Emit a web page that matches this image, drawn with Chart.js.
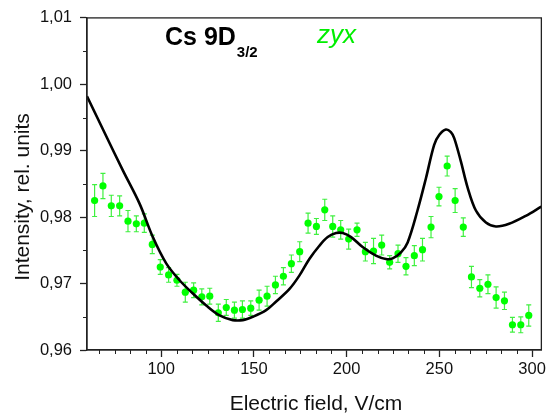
<!DOCTYPE html>
<html>
<head>
<meta charset="utf-8">
<script src="https://cdn.jsdelivr.net/npm/chart.js@4/dist/chart.umd.min.js"></script>
<style>
  html, body { margin: 0; padding: 0; background: #fff; }
</style>
</head>
<body>
<canvas id="chart" width="549" height="418"></canvas>
<script>
// measured points (Cs 9D3/2, zyx geometry)
const fieldPts = [64.1, 68.6, 73.1, 77.6, 82.1, 86.6, 90.9, 95.2, 99.5, 104.0,
  108.5, 113.0, 117.5, 121.9, 126.2, 130.8, 135.1, 139.5, 143.8, 148.3,
  152.8, 157.1, 161.6, 165.9, 170.2, 174.7, 179.2, 183.7, 188.2, 192.5,
  196.8, 201.1, 205.6, 210.1, 214.5, 218.9, 223.2, 227.7, 232.0, 236.5,
  240.9, 245.5, 249.8, 254.2, 258.5, 262.9, 267.3, 271.8, 276.2, 280.6,
  285.1, 289.4, 293.9, 298.2];
const intensity = [0.9825, 0.9847, 0.9817, 0.9817, 0.9794, 0.9790, 0.9791, 0.9759, 0.9725, 0.9713,
  0.9705, 0.9687, 0.9690, 0.9680, 0.9681, 0.9656, 0.9664, 0.9660, 0.9661, 0.9663,
  0.9675, 0.9681, 0.9698, 0.9711, 0.9730, 0.9748, 0.9791, 0.9786, 0.9811, 0.9786,
  0.9781, 0.9767, 0.9781, 0.9748, 0.9749, 0.9758, 0.9732, 0.9745, 0.9726, 0.9742,
  0.9751, 0.9785, 0.9831, 0.9877, 0.9825, 0.9785, 0.9710, 0.9693, 0.9699, 0.9679,
  0.9674, 0.9638, 0.9638, 0.9652];
const intensityErr = [0.0024, 0.0019, 0.0016, 0.0015, 0.0016, 0.0012, 0.0014, 0.0014, 0.0011, 0.0011,
  0.0009, 0.0015, 0.0011, 0.0012, 0.0012, 0.0013, 0.0012, 0.0012, 0.0013, 0.0011,
  0.0015, 0.0015, 0.0013, 0.0013, 0.0013, 0.0015, 0.0015, 0.0012, 0.0016, 0.0016,
  0.0014, 0.0015, 0.0010, 0.0014, 0.0019, 0.0015, 0.0010, 0.0013, 0.0013, 0.0015,
  0.0017, 0.0016, 0.0014, 0.0015, 0.0018, 0.0014, 0.0016, 0.0013, 0.0014, 0.0016,
  0.0013, 0.0011, 0.0012, 0.0016];

// calculated signal
const curveField = [60, 70, 79.4, 88.4, 95.5, 102.8, 109.9, 117.1, 124.3, 131.5,
  138.6, 144.0, 149.4, 156.6, 162.0, 169.2, 174.5, 179.9, 185.3, 189.8,
  194.3, 197.9, 202.4, 208.6, 215.8, 221.2, 224.8, 229.3, 232.9, 238.2,
  242.8, 247.2, 250.0, 253.5, 256.2, 258.0, 261.6, 265.2, 269.7, 275.1,
  280.5, 287.6, 296.6, 305];
const curveIntensity = [0.9982, 0.9924, 0.9870, 0.9820, 0.9770, 0.9730, 0.9705, 0.9685, 0.9667, 0.9652,
  0.9645, 0.9645, 0.9650, 0.9660, 0.9673, 0.9692, 0.9712, 0.9737, 0.9757, 0.9770,
  0.9776, 0.9776, 0.9770, 0.9755, 0.9742, 0.9737, 0.9738, 0.9747, 0.9762, 0.9810,
  0.9859, 0.9909, 0.9924, 0.9932, 0.9928, 0.9919, 0.9884, 0.9845, 0.9810, 0.9792,
  0.9786, 0.9790, 0.9802, 0.9816];

const xTicks = [100, 150, 200, 250, 300];
const yTicks = [0.96, 0.97, 0.98, 0.99, 1.00, 1.01];

const FONT = "'Liberation Sans', Arial, sans-serif";
const AXIS_COLOR = '#222';

function pairs(xs, ys) {
  return xs.map((x, i) => ({ x: x, y: ys[i] }));
}

// error bars, minor ticks, frame and the text labels
const decor = {
  id: 'decor',
  beforeDatasetsDraw(chart) {
    const ctx = chart.ctx;
    const sx = chart.scales.x, sy = chart.scales.y;
    ctx.save();
    ctx.strokeStyle = '#40f040';
    ctx.lineWidth = 1.2;
    fieldPts.forEach((f, i) => {
      const px = sx.getPixelForValue(f);
      const top = sy.getPixelForValue(intensity[i] + intensityErr[i]);
      const bot = sy.getPixelForValue(intensity[i] - intensityErr[i]);
      ctx.beginPath();
      ctx.moveTo(px, top); ctx.lineTo(px, bot);
      ctx.moveTo(px - 2.5, top); ctx.lineTo(px + 2.5, top);
      ctx.moveTo(px - 2.5, bot); ctx.lineTo(px + 2.5, bot);
      ctx.stroke();
    });
    ctx.restore();
  },
  afterDraw(chart) {
    const ctx = chart.ctx;
    const a = chart.chartArea;
    const sx = chart.scales.x, sy = chart.scales.y;
    ctx.save();
    ctx.strokeStyle = AXIS_COLOR;
    ctx.lineWidth = 1.3;
    ctx.strokeRect(a.left, a.top, a.right - a.left, a.bottom - a.top);

    // minor ticks
    ctx.lineWidth = 1;
    ctx.beginPath();
    for (let k = -5; k < 30; k++) {
      const v = 100 + k * 50 / 6;
      if (v <= sx.min || v >= sx.max || k % 6 === 0) continue;
      const px = Math.round(sx.getPixelForValue(v)) + 0.5;
      ctx.moveTo(px, a.bottom); ctx.lineTo(px, a.bottom + 4);
    }
    for (let v = 0.965; v < 1.01; v += 0.01) {
      const py = Math.round(sy.getPixelForValue(v)) + 0.5;
      ctx.moveTo(a.left, py); ctx.lineTo(a.left - 4, py);
    }
    ctx.stroke();

    // axis titles
    ctx.fillStyle = '#111';
    ctx.font = '21px ' + FONT;
    ctx.textAlign = 'center';
    ctx.textBaseline = 'alphabetic';
    ctx.fillText('Electric field, V/cm', 316, 410);
    ctx.save();
    ctx.translate(29, 197);
    ctx.rotate(-Math.PI / 2);
    ctx.fillText('Intensity, rel. units', 0, 0);
    ctx.restore();

    // state label
    ctx.textAlign = 'left';
    ctx.fillStyle = '#000';
    ctx.font = 'bold 25px ' + FONT;
    ctx.fillText('Cs 9D', 165, 45);
    const w = ctx.measureText('Cs 9D').width;
    ctx.font = 'bold 15px ' + FONT;
    ctx.fillText('3/2', 165 + w + 1, 57);

    ctx.fillStyle = '#00ee00';
    ctx.font = 'italic 26px ' + FONT;
    ctx.fillText('zyx', 317, 43);
    ctx.restore();
  }
};

new Chart(document.getElementById('chart'), {
  type: 'scatter',
  data: {
    datasets: [
      {
        type: 'line',
        label: 'theory',
        data: pairs(curveField, curveIntensity),
        borderColor: '#000',
        borderWidth: 2.6,
        pointRadius: 0,
        tension: 0.35,
        fill: false
      },
      {
        label: 'zyx',
        data: pairs(fieldPts, intensity),
        backgroundColor: '#00ff00',
        borderWidth: 0,
        pointRadius: 3.6
      }
    ]
  },
  options: {
    responsive: false,
    animation: false,
    layout: { padding: { top: 16, right: 7, bottom: 0, left: 0 } },
    plugins: {
      legend: { display: false },
      tooltip: { enabled: false }
    },
    scales: {
      x: {
        type: 'linear',
        min: 60,
        max: 305,
        afterBuildTicks: s => { s.ticks = xTicks.map(v => ({ value: v })); },
        afterFit: s => { s.height = 68; },
        grid: { drawOnChartArea: false, tickLength: 7, tickColor: AXIS_COLOR, tickWidth: 1.3 },
        border: { display: true, color: AXIS_COLOR, width: 1.3 },
        ticks: {
          color: '#111',
          padding: 3,
          maxRotation: 0,
          autoSkip: false,
          font: { family: FONT, size: 16.5 }
        }
      },
      y: {
        min: 0.96,
        max: 1.01,
        afterBuildTicks: s => { s.ticks = yTicks.map(v => ({ value: v })); },
        afterFit: s => { s.width = 87; },
        grid: { drawOnChartArea: false, tickLength: 7, tickColor: AXIS_COLOR, tickWidth: 1.3 },
        border: { display: true, color: AXIS_COLOR, width: 1.3 },
        ticks: {
          color: '#111',
          padding: 8,
          autoSkip: false,
          font: { family: FONT, size: 16.5 },
          callback: v => v.toFixed(2).replace('.', ',')
        }
      }
    }
  },
  plugins: [decor]
});
</script>
</body>
</html>
